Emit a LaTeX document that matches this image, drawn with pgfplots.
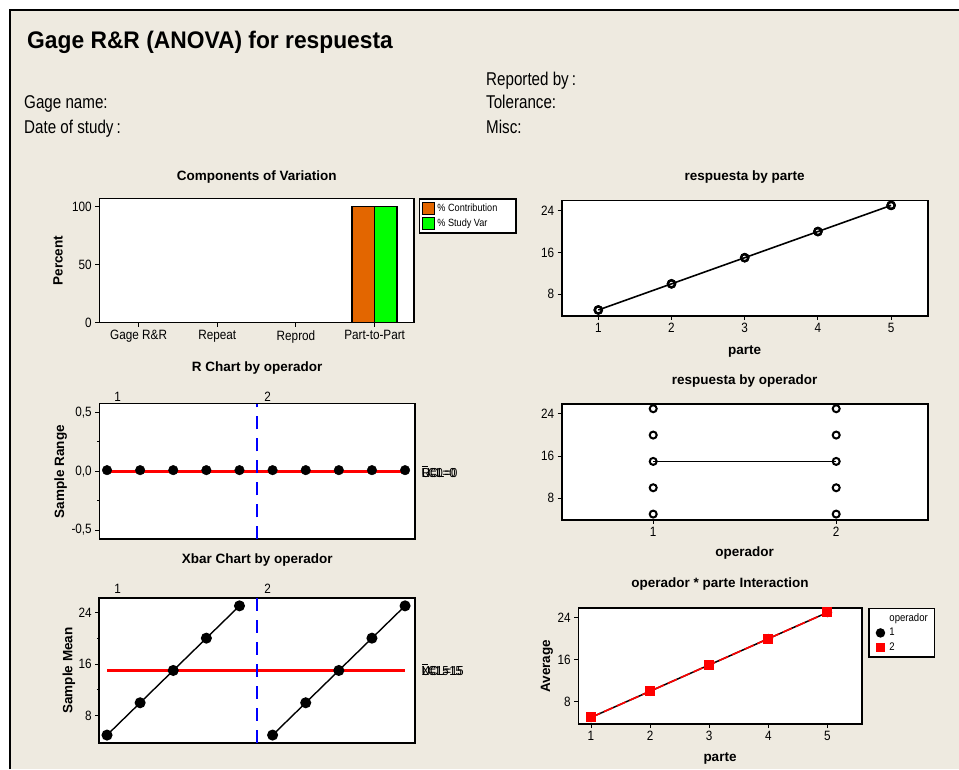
\documentclass[border=0pt]{standalone}
\usepackage{fontspec}
\setmainfont{Liberation Sans}
\newfontfamily\narrow{Liberation Sans}[FakeStretch=0.87]
\newfontfamily\headfont{Liberation Sans}[FakeStretch=0.82]
\newfontfamily\titlefont{Liberation Sans}[FakeStretch=0.95]
\usepackage{pgfplots}
\pgfplotsset{compat=1.18}

\definecolor{bgcol}{RGB}{238,234,224}
\definecolor{barorange}{RGB}{227,102,0}
\definecolor{bargreen}{RGB}{0,255,0}

\pgfplotsset{
  mtb/.style={
    scale only axis,
    clip mode=individual,
    axis background/.style={fill=white},
    axis line style={line width=1.6pt},
    tick style={black, line width=1pt},
    major tick length=4pt, minor tick length=2.5pt,
    tick align=outside,
    xtick pos=bottom, ytick pos=left,
    tick label style={font=\narrow\fontsize{13.5}{15}\selectfont},
    /pgf/number format/assume math mode=true,
    label style={font=\bfseries\fontsize{13.5}{16}\selectfont},
    title style={at={(axis description cs:0.5,1)}, anchor=center,
      font=\bfseries\fontsize{13.5}{16}\selectfont},
  },
  sqlegend/.style={legend image code/.code={\draw[##1] (0pt,-6pt) rectangle (12pt,6pt);}},
}

\begin{document}
\begin{tikzpicture}[x=1pt,y=1pt]
\useasboundingbox (0,0) rectangle (959,769);
\fill[white] (0,0) rectangle (959,769);
\fill[bgcol] (10,0) rectangle (959,759);
\draw[line width=2pt] (10,0) -- (10,759) -- (959,759);

% header
\node[anchor=base west, font=\titlefont\bfseries\fontsize{24}{28}\selectfont, inner sep=0pt] at (27,720) {Gage R\&R (ANOVA) for respuesta};
\begin{scope}[every node/.style={anchor=base west, inner sep=0pt, font=\headfont\fontsize{18.5}{20}\selectfont}]
\node at (24,660) {Gage name:};
\node at (24,635) {Date of study\,:};
\node at (486,683) {Reported by\,:};
\node at (486,660) {Tolerance:};
\node at (486,635) {Misc:};
\end{scope}

% Components of Variation
\begin{axis}[mtb, at={(99.3pt,446.3pt)}, anchor=south west,
  width=314.7pt, height=124pt,
  xmin=-0.5, xmax=3.5, ymin=0, ymax=106.9,
  xtick={0,1,2,3}, xticklabels={Gage R\&R,Repeat,Reprod,Part-to-Part},
  ytick={0,50,100},
  title={Components of Variation}, title style={yshift=16pt},
  ylabel=Percent, ylabel style={at={(axis description cs:-0.131,0.5)}, anchor=center},
  legend style={at={(1.016,1.003)}, anchor=north west, draw=black, line width=1.4pt,
    font=\narrow\fontsize{10.5}{12}\selectfont, inner sep=2.5pt, row sep=2.5pt},
  legend cell align=left]
\addlegendimage{sqlegend, fill=barorange, draw=black, line width=1.2pt}
\addlegendentry{\% Contribution\hspace*{14pt}\mbox{}}
\addlegendimage{sqlegend, fill=bargreen, draw=black, line width=1.2pt}
\addlegendentry{\% Study Var}
\addplot[ybar, bar width=22.5pt, bar shift=-11.25pt, fill=barorange, draw=black, line width=1.5pt, forget plot]
  coordinates {(0,0) (1,0) (2,0) (3,100)};
\addplot[ybar, bar width=22.5pt, bar shift=11.25pt, fill=bargreen, draw=black, line width=1.5pt, forget plot]
  coordinates {(0,0) (1,0) (2,0) (3,100)};
\end{axis}

% R Chart
\begin{axis}[mtb, at={(99.3pt,229.7pt)}, anchor=south west,
  width=315.7pt, height=135.6pt,
  xmin=0.767, xmax=10.3, ymin=-0.579, ymax=0.576,
  xtick=\empty,
  ytick={-0.5,0,0.5}, yticklabels={{-0,5},{0,0},{0,5}},
  minor ytick={-0.25,0.25},
  title={R Chart by operador}, title style={yshift=30pt},
  ylabel=Sample Range, ylabel style={at={(axis description cs:-0.122,0.5)}, anchor=center}]
\addplot[red, line width=2.4pt, mark=none] coordinates {(1,0) (10,0)};
\addplot[blue, line width=1.4pt, dash pattern=on 13pt off 9pt] coordinates {(5.53,-0.579) (5.53,0.576)};
\addplot[only marks, mark=*, mark size=4.8pt, black] coordinates {
  (1,0.01) (2,0.01) (3,0.01) (4,0.01) (5,0.01)
  (6,0.01) (7,0.01) (8,0.01) (9,0.01) (10,0.01)};
\end{axis}
\node[font=\narrow\fontsize{13.5}{15}\selectfont] at (117.7,372) {1};
\node[font=\narrow\fontsize{13.5}{15}\selectfont] at (267.7,372) {2};
\node[anchor=west, font=\narrow\fontsize{13}{14}\selectfont, inner sep=0pt] at (421.7,297.3)
  {\rlap{UCL=0}\rlap{LCL=0}\rlap{\rule[10.5pt]{6pt}{0.6pt}}R=0};

% Xbar Chart
\begin{axis}[mtb, at={(99.3pt,26.3pt)}, anchor=south west,
  width=315.7pt, height=144.4pt,
  xmin=0.767, xmax=10.3, ymin=3.82, ymax=26.17,
  xtick=\empty,
  ytick={8,16,24}, minor ytick={12,20},
  title={Xbar Chart by operador}, title style={yshift=32.6pt},
  ylabel=Sample Mean, ylabel style={at={(axis description cs:-0.096,0.5)}, anchor=center}]
\addplot[red, line width=2.4pt, mark=none] coordinates {(1,15) (10,15)};
\addplot[blue, line width=1.4pt, dash pattern=on 13pt off 9pt] coordinates {(5.53,3.82) (5.53,26.17)};
\addplot[black, line width=1.4pt, mark=*, mark size=4.8pt] coordinates {(1,5) (2,10) (3,15) (4,20) (5,25)};
\addplot[black, line width=1.4pt, mark=*, mark size=4.8pt] coordinates {(6,5) (7,10) (8,15) (9,20) (10,25)};
\end{axis}
\node[font=\narrow\fontsize{13.5}{15}\selectfont] at (117.7,180) {1};
\node[font=\narrow\fontsize{13.5}{15}\selectfont] at (267.7,180) {2};
\node[anchor=west, font=\narrow\fontsize{13}{14}\selectfont, inner sep=0pt] at (421.7,99)
  {\rlap{UCL=15}\rlap{LCL=15}\rlap{\rule[10.5pt]{6pt}{0.6pt}}X=15};

% respuesta by parte
\begin{axis}[mtb, at={(561.7pt,453pt)}, anchor=south west,
  width=366pt, height=115.3pt,
  xmin=0.5, xmax=5.5, ymin=3.85, ymax=25.9,
  xtick={1,2,3,4,5}, ytick={8,16,24},
  title={respuesta by parte}, title style={yshift=18pt},
  xlabel=parte, xlabel style={at={(axis description cs:0.5,-0.31)}, anchor=center}]
\addplot[black, line width=1.6pt, mark=none] coordinates {(1,5) (2,10) (3,15) (4,20) (5,25)};
\addplot[only marks, mark=o, mark size=3.6pt, line width=2.3pt, black] coordinates {
  (1,5) (2,10) (3,15) (4,20) (5,25)
  (1,5) (2,10) (3,15) (4,20) (5,25)};
\end{axis}

% respuesta by operador
\begin{axis}[mtb, at={(561.7pt,249pt)}, anchor=south west,
  width=366pt, height=115.7pt,
  xmin=0.5, xmax=2.5, ymin=3.88, ymax=25.84,
  xtick={1,2}, ytick={8,16,24},
  title={respuesta by operador}, title style={yshift=17.6pt},
  xlabel=operador, xlabel style={at={(axis description cs:0.5,-0.285)}, anchor=center}]
\addplot[black, line width=1.6pt, mark=none] coordinates {(1,15) (2,15)};
\addplot[only marks, mark=o, mark size=3.5pt, line width=2pt, black] coordinates {
  (1,5) (1,10) (1,15) (1,20) (1,25)
  (2,5) (2,10) (2,15) (2,20) (2,25)};
\end{axis}

% Interaction
\begin{axis}[mtb, at={(578.3pt,45pt)}, anchor=south west,
  width=283.4pt, height=115.7pt,
  xmin=0.785, xmax=5.58, ymin=3.75, ymax=25.79,
  xtick={1,2,3,4,5}, ytick={8,16,24},
  title={operador * parte Interaction}, title style={yshift=18.3pt},
  xlabel=parte, xlabel style={at={(axis description cs:0.5,-0.294)}, anchor=center},
  ylabel=Average, ylabel style={at={(axis description cs:-0.111,0.5)}, anchor=center},
  legend style={at={(1.023,1.005)}, anchor=north west, draw=black, line width=1.4pt,
    font=\narrow\fontsize{11}{13}\selectfont, inner xsep=3pt, inner ysep=3pt,
    row sep=1.5pt, column sep=3pt},
  legend cell align=left]
\addlegendimage{empty legend}
\addlegendentry{operador\hspace*{2pt}\mbox{}}
\addlegendimage{only marks, mark=*, mark size=4pt, black}
\addlegendentry{1}
\addlegendimage{only marks, mark=square*, mark size=4pt, red}
\addlegendentry{2}
\addplot[black, line width=1.5pt, mark=*, mark size=4pt, forget plot]
  coordinates {(1,5) (2,10) (3,15) (4,20) (5,25)};
\addplot[red, line width=1.6pt, dash pattern=on 10pt off 4pt, mark=square*, mark size=4.2pt,
  mark options={solid}, forget plot]
  coordinates {(1,5) (2,10) (3,15) (4,20) (5,25)};
\end{axis}
\end{tikzpicture}
\end{document}
